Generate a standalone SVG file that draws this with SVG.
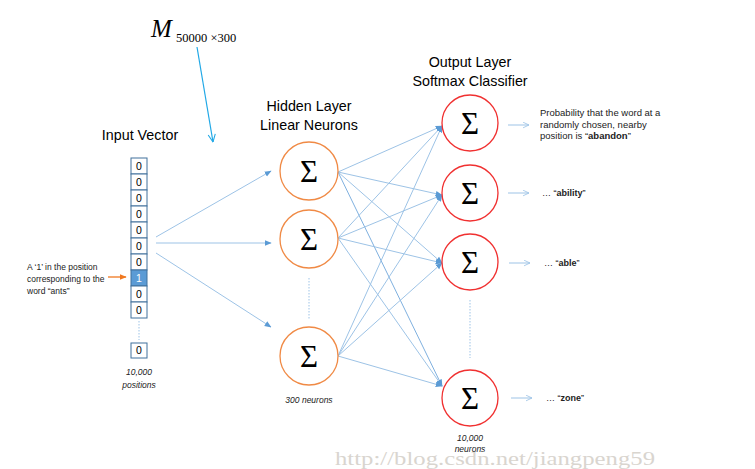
<svg xmlns="http://www.w3.org/2000/svg" width="755" height="469" viewBox="0 0 755 469">
<defs>
<style>
.t{font-family:"Liberation Sans",Arial,sans-serif;fill:#000}
.h{font-size:14.3px;text-anchor:middle}
.s{font-size:8.5px;fill:#222}
.p{font-size:9.5px;fill:#222}
.q{font-size:9px;fill:#222}
.i{font-style:italic;font-size:8.5px;text-anchor:middle;fill:#222}
.sig{font-family:"Liberation Serif","Times New Roman",serif;font-size:31px;text-anchor:middle;fill:#000}
.hid{fill:#fff;stroke:#f08a45;stroke-width:1.3}
.out{fill:#fff;stroke:#f03030;stroke-width:1.3}
.box{fill:#fff;stroke:#41719c;stroke-width:1}
.bt{font-family:"Liberation Sans",Arial,sans-serif;font-size:10.5px;text-anchor:middle;fill:#000}
.ln{stroke:#9dc3e6;stroke-width:1;fill:none}
.ln2{stroke:#7fb0df;stroke-width:1;fill:none}
.dot{stroke:#9dc3e6;stroke-width:1;stroke-dasharray:1.5 1.5;fill:none}
</style>
<marker id="ah" viewBox="0 0 10 10" refX="9" refY="5" markerWidth="7" markerHeight="7" markerUnits="userSpaceOnUse" orient="auto"><path d="M0,1 L10,5 L0,9 z" fill="#5b9bd5"/></marker>
<marker id="oa" viewBox="0 0 10 10" refX="9.5" refY="5" markerWidth="7" markerHeight="7" markerUnits="userSpaceOnUse" orient="auto"><path d="M1,1 L9.5,5 L1,9" fill="none" stroke="#9dc3e6" stroke-width="1.2"/></marker>
<marker id="ca" viewBox="0 0 10 10" refX="9.5" refY="5" markerWidth="9" markerHeight="9" markerUnits="userSpaceOnUse" orient="auto"><path d="M1,1 L9.5,5 L1,9" fill="none" stroke="#20a8e6" stroke-width="1.2"/></marker>
<marker id="or" viewBox="0 0 10 10" refX="9" refY="5" markerWidth="7" markerHeight="7" markerUnits="userSpaceOnUse" orient="auto"><path d="M0,1 L10,5 L0,9 z" fill="#f07820"/></marker>
</defs>
<rect width="755" height="469" fill="#fff"/>

<g id="matrix-label">
<text x="151" y="37" font-family="'Liberation Serif','Times New Roman',serif" font-style="italic" font-size="25">M</text>
<text x="176" y="42" font-family="'Liberation Serif','Times New Roman',serif" font-size="12.5">50000 ×300</text>
</g>

<g id="connectors">
<line x1="197" y1="47" x2="213" y2="142" stroke="#20a8e6" stroke-width="1.2" marker-end="url(#ca)"/>
<line x1="108" y1="277" x2="126" y2="277" stroke="#f07820" stroke-width="1.3" marker-end="url(#or)"/>
<line class="ln" x1="156" y1="237" x2="271" y2="171" marker-end="url(#ah)"/>
<line class="ln" x1="156" y1="243" x2="271" y2="243" marker-end="url(#ah)"/>
<line class="ln" x1="156" y1="253" x2="271" y2="327" marker-end="url(#ah)"/>
<line class="ln" x1="338" y1="172" x2="442" y2="126" marker-end="url(#ah)"/>
<line class="ln" x1="338" y1="172" x2="442" y2="195" marker-end="url(#ah)"/>
<line class="ln" x1="338" y1="172" x2="442" y2="263" marker-end="url(#ah)"/>
<line class="ln2" x1="338" y1="172" x2="442" y2="386" marker-end="url(#ah)"/>
<line class="ln" x1="338" y1="238" x2="442" y2="126" marker-end="url(#ah)"/>
<line class="ln" x1="338" y1="238" x2="442" y2="195" marker-end="url(#ah)"/>
<line class="ln" x1="338" y1="238" x2="442" y2="263" marker-end="url(#ah)"/>
<line class="ln" x1="338" y1="238" x2="442" y2="386" marker-end="url(#ah)"/>
<line class="ln" x1="338" y1="356" x2="442" y2="126" marker-end="url(#ah)"/>
<line class="ln" x1="338" y1="356" x2="442" y2="195" marker-end="url(#ah)"/>
<line class="ln" x1="338" y1="356" x2="442" y2="263" marker-end="url(#ah)"/>
<line class="ln" x1="338" y1="356" x2="442" y2="386" marker-end="url(#ah)"/>
<line class="ln" x1="508" y1="125" x2="529" y2="125" marker-end="url(#oa)"/>
<line class="ln" x1="508" y1="193" x2="529" y2="193" marker-end="url(#oa)"/>
<line class="ln" x1="509" y1="263" x2="530" y2="263" marker-end="url(#oa)"/>
<line class="ln" x1="511" y1="398" x2="532" y2="398" marker-end="url(#oa)"/>
<line class="dot" x1="139" y1="321" x2="139" y2="340"/>
<line class="dot" x1="309" y1="278" x2="309" y2="320"/>
<line class="dot" x1="470" y1="300" x2="470" y2="358"/>
</g>

<g id="input-vector">
<text class="t h" x="140" y="140">Input Vector</text>
<rect class="box" x="131" y="158" width="16" height="16"/><text class="bt" x="139" y="170">0</text>
<rect class="box" x="131" y="174" width="16" height="16"/><text class="bt" x="139" y="186">0</text>
<rect class="box" x="131" y="190" width="16" height="16"/><text class="bt" x="139" y="202">0</text>
<rect class="box" x="131" y="206" width="16" height="16"/><text class="bt" x="139" y="218">0</text>
<rect class="box" x="131" y="222" width="16" height="16"/><text class="bt" x="139" y="234">0</text>
<rect class="box" x="131" y="238" width="16" height="16"/><text class="bt" x="139" y="250">0</text>
<rect class="box" x="131" y="254" width="16" height="16"/><text class="bt" x="139" y="266">0</text>
<rect x="131" y="270" width="16" height="16" fill="#5b9bd5" stroke="#41719c"/><text class="bt" x="139" y="282" style="fill:#fff">1</text>
<rect class="box" x="131" y="286" width="16" height="16"/><text class="bt" x="139" y="298">0</text>
<rect class="box" x="131" y="302" width="16" height="16"/><text class="bt" x="139" y="314">0</text>
<rect class="box" x="131" y="343" width="16" height="15"/><text class="bt" x="139" y="354">0</text>
<text class="t i" x="139" y="375">10,000</text>
<text class="t i" x="139" y="388">positions</text>
</g>

<g id="ants-label">
<text class="t s" x="27" y="270">A ‘1’ in the position</text>
<text class="t s" x="27" y="282">corresponding to the</text>
<text class="t s" x="27" y="294">word “ants”</text>
</g>

<g id="hidden-layer">
<text class="t h" x="309" y="111">Hidden Layer</text>
<text class="t h" x="309" y="130">Linear Neurons</text>
<text class="t i" x="309" y="403">300 neurons</text>
</g>
<g id="hidden-1"><circle class="hid" cx="309" cy="171" r="29"/><text class="sig" x="309" y="182">Σ</text></g>
<g id="hidden-2"><circle class="hid" cx="309" cy="239" r="29"/><text class="sig" x="309" y="250">Σ</text></g>
<g id="hidden-3"><circle class="hid" cx="309" cy="356" r="29"/><text class="sig" x="309" y="367">Σ</text></g>

<g id="output-layer">
<text class="t h" x="470" y="67">Output Layer</text>
<text class="t h" x="470" y="86">Softmax Classifier</text>
<text class="t i" x="470" y="441">10,000</text>
<text class="t i" x="470" y="452">neurons</text>
</g>
<g id="output-1"><circle class="out" cx="470" cy="123" r="28"/><text class="sig" x="470" y="134">Σ</text></g>
<g id="output-2"><circle class="out" cx="470" cy="193" r="28"/><text class="sig" x="470" y="204">Σ</text></g>
<g id="output-3"><circle class="out" cx="470" cy="262" r="28"/><text class="sig" x="470" y="273">Σ</text></g>
<g id="output-4"><circle class="out" cx="470" cy="398" r="28"/><text class="sig" x="470" y="409">Σ</text></g>

<g id="output-labels">
<text class="t p" x="540" y="116">Probability that the word at a</text>
<text class="t p" x="540" y="127.5">randomly chosen, nearby</text>
<text class="t p" x="540" y="139">position is “<tspan font-weight="bold">abandon</tspan>”</text>
<text class="t q" x="542" y="196">… “<tspan font-weight="bold">ability</tspan>”</text>
<text class="t q" x="544" y="266">… “<tspan font-weight="bold">able</tspan>”</text>
<text class="t q" x="546" y="401">… “<tspan font-weight="bold">zone</tspan>”</text>
</g>

<text x="335" y="465" font-family="'Liberation Serif','Times New Roman',serif" font-size="18.5" fill="#d9d5cf" textLength="320" lengthAdjust="spacingAndGlyphs">http://blog.csdn.net/jiangpeng59</text>
</svg>
